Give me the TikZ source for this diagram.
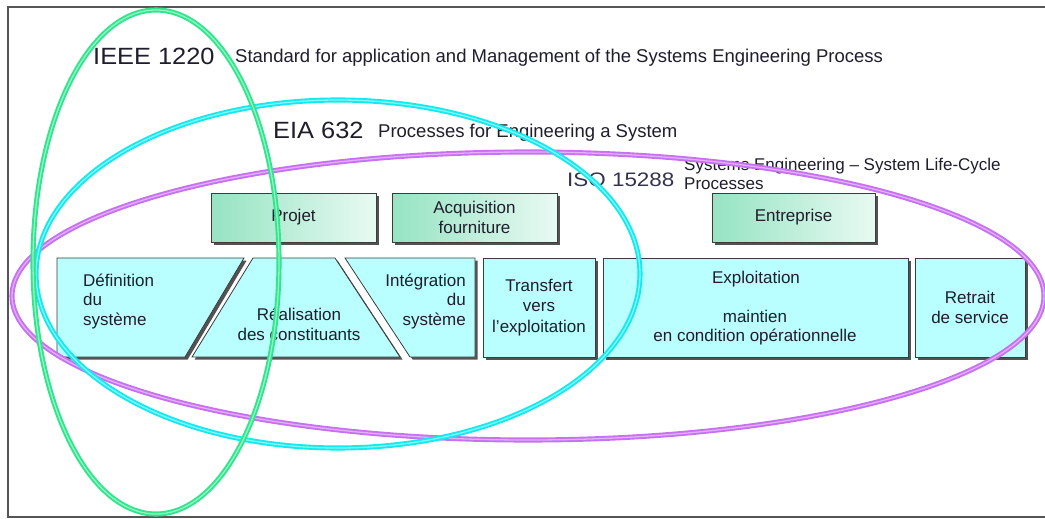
\documentclass[tikz,border=0pt]{standalone}
\usepackage{fontspec}
\setmainfont{Liberation Sans}
\newfontfamily\widefont[FakeStretch=1.08]{Liberation Sans}
\newfontfamily\isofont[FakeStretch=1.15]{Liberation Sans}
\usetikzlibrary{shadows}
\definecolor{ieee}{HTML}{2EE68C}
\definecolor{eia}{HTML}{12EAF0}
\definecolor{iso}{HTML}{C870F2}
\definecolor{phase}{HTML}{B9FFFF}
\definecolor{bordr}{HTML}{3C3C3C}
\definecolor{ink}{HTML}{1E1E2C}
\definecolor{isoink}{HTML}{33334E}
\definecolor{mgA}{HTML}{96E3C2}
\definecolor{mgB}{HTML}{E8FAF3}
\definecolor{framec}{HTML}{555555}
\tikzset{
  shadowed/.style={drop shadow={shadow xshift=2.6pt, shadow yshift=-2.6pt, fill=black!75, opacity=0.9}},
  phasebox/.style={shadowed, fill=phase, draw=bordr, line width=0.8pt},
  mgmtbox/.style={shadowed, draw=bordr, line width=0.8pt, left color=mgA, right color=mgB,
    minimum height=49pt, text=ink, align=center, inner sep=0pt,
    font=\fontsize{17}{19.5}\selectfont},
  boxtext/.style={text=ink, inner sep=0pt, font=\fontsize{17}{19.5}\selectfont},
  bigtitle/.style={text=ink, inner sep=0pt, anchor=base west, font=\widefont\fontsize{23.5}{26}\selectfont},
  subtitle/.style={text=ink, inner sep=0pt, anchor=base west, font=\fontsize{18.5}{20}\selectfont},
  ring/.style={line width=1.9pt, double distance=1.3pt},
  framing/.style={draw=framec, line width=1.2pt}
}
\begin{document}
\begin{tikzpicture}[x=1pt,y=-1pt]
\useasboundingbox (0,0) rectangle (1045,519);
\fill[white] (0,0) rectangle (1045,519);
% frame
\coordinate (ftr) at (1045,7);
\coordinate (ftl) at (8,7);
\coordinate (fbl) at (8,517);
\coordinate (fbr) at (1045,517);
\draw[framing] (ftr) -- (ftl) -- (fbl) -- (fbr);

% management boxes
\node[mgmtbox, minimum width=165pt] (projet) at (293.5,217.5) {Projet};
\node[mgmtbox, minimum width=165pt] (acq) at (474.5,217.5) {Acquisition\\fourniture};
\node[mgmtbox, minimum width=163pt] (entr) at (793.5,217.5) {Entreprise};

% phase shapes
\path[phasebox] (57,258) -- (244,258) -- (185,357) -- (57,357) -- cycle;
\path[phasebox] (253,258) -- (335,258) -- (400,357) -- (192,357) -- cycle;
\path[phasebox] (345,258) -- (475,258) -- (475,357) -- (410,357) -- cycle;
\node[phasebox, minimum width=112pt, minimum height=99pt] (transf) at (539,307.5) {};
\node[phasebox, minimum width=305pt, minimum height=99pt] (exploit) at (755.5,307.5) {};
\node[phasebox, minimum width=110pt, minimum height=99pt] (retrait) at (970,307.5) {};

\node[boxtext, anchor=west, align=left] (defin) at (83,301.5) {Définition\\du\\système};
\node[boxtext, align=center] (realis) at (299,324.5) {Réalisation\\des constituants};
\node[boxtext, anchor=east, align=right] (integ) at (466,301.5) {Intégration\\du\\système};
\node[boxtext, align=center, font=\fontsize{17}{20.5}\selectfont] (transft) at (transf) {Transfert\\vers\\l’exploitation};
\node[boxtext] (explt) at (756,279) {Exploitation};
\node[boxtext, align=center] (maint) at (755,327.5) {maintien\\en condition opérationnelle};
\node[boxtext, align=center] (retrt) at (retrait) {Retrait\\de service};

% titles
\node[bigtitle] (ieeet) at (93,65) {IEEE 1220};
\node[subtitle] (ieees) at (235,63) {Standard for application and Management of the Systems Engineering Process};
\node[bigtitle] (eiat) at (273,138) {EIA 632};
\node[subtitle] (eias) at (378,137) {Processes for Engineering a System};
\node[text=isoink, inner sep=0pt, anchor=base west, font=\isofont\fontsize{19.5}{22}\selectfont] (isot) at (567,186) {ISO 15288};
\node[text=ink, inner sep=0pt, anchor=base west, align=left, font=\fontsize{17}{19}\selectfont] (isos) at (684,170) {Systems Engineering – System Life-Cycle};
\node[text=ink, inner sep=0pt, anchor=base west, font=\fontsize{17}{19}\selectfont] (isos2) at (684,189) {Processes};

% rings
\draw[ring, draw=iso, double=iso!55] (528,296) ellipse [x radius=516, y radius=144];
\draw[ring, draw=eia, double=eia!50] (338,274) ellipse [x radius=302, y radius=174];
\draw[ring, draw=ieee, double=ieee!50] (156,262) ellipse [x radius=123, y radius=252];
\end{tikzpicture}
\end{document}
